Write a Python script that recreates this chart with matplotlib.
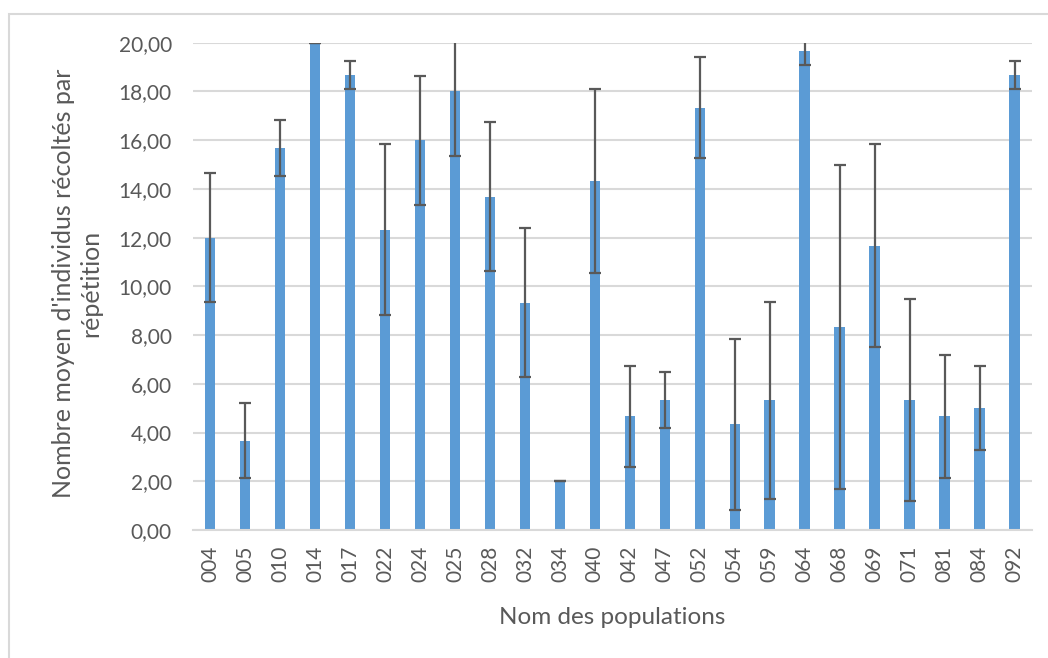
import matplotlib
matplotlib.use('Agg')
import matplotlib.pyplot as plt
from matplotlib.patches import Rectangle

populations = ['004', '005', '010', '014', '017', '022', '024', '025', '028', '032',
               '034', '040', '042', '047', '052', '054', '059', '064', '068', '069',
               '071', '081', '084', '092']
moyennes = [12.00, 3.67, 15.67, 20.00, 18.67, 12.33, 16.00, 18.00, 13.67, 9.33,
            2.00, 14.33, 4.67, 5.33, 17.33, 4.33, 5.33, 19.67, 8.33, 11.67,
            5.33, 4.67, 5.00, 18.67]
ecarts = [2.65, 1.53, 1.15, 0.00, 0.58, 3.51, 2.65, 2.65, 3.06, 3.06,
          0.00, 3.79, 2.08, 1.15, 2.08, 3.51, 4.04, 0.58, 6.66, 4.16,
          4.16, 2.52, 1.73, 0.58]
y_ticks = [0, 2, 4, 6, 8, 10, 12, 14, 16, 18, 20]

gris = '#595959'
plt.rcParams['font.family'] = ['Lato', 'DejaVu Sans']

fig = plt.figure(figsize=(10.48, 6.58), dpi=100)
# bordure de la zone de graphique (style Excel)
fig.patches.append(Rectangle((9 / 1048, -0.1), 1.2, (658 - 14) / 658 + 0.1,
                             transform=fig.transFigure, fill=False,
                             edgecolor='#D9D9D9', linewidth=1.5))

ax = fig.add_axes([192.7 / 1048, (658 - 530) / 658, (1032 - 192.7) / 1048, (530 - 42.7) / 658])
x = range(len(populations))
ax.bar(x, moyennes, width=0.3, color='#5B9BD5', zorder=2)
ax.errorbar(x, moyennes, yerr=ecarts, fmt='none', ecolor=gris, elinewidth=1.6,
            capsize=4, capthick=1.6, zorder=3)

ax.set_xlim(-0.5, len(populations) - 0.5)
ax.set_ylim(0, 20)
ax.set_yticks(y_ticks)
ax.set_yticklabels([f'{v:.2f}'.replace('.', ',') for v in y_ticks], fontsize=15, color=gris)
ax.set_xticks(list(x))
ax.set_xticklabels(populations, rotation=90, fontsize=15, color=gris)
ax.tick_params(axis='y', length=0, pad=15)
ax.tick_params(axis='x', length=0, pad=11)
ax.grid(axis='y', color='#D9D9D9', linewidth=1.5, zorder=0)
for s in ['top', 'right', 'left']:
    ax.spines[s].set_visible(False)
ax.spines['bottom'].set_color('#D9D9D9')
ax.spines['bottom'].set_linewidth(1.5)

# titres des axes
fig.text(612 / 1048, 1 - 617 / 658, 'Nom des populations', fontsize=17.5, color=gris,
         ha='center', va='center')
fig.text(77 / 1048, 1 - 283 / 658, "Nombre moyen d'individus récoltés par\nrépétition",
         fontsize=18, color=gris, rotation=90, ha='center', va='center',
         linespacing=1.2, multialignment='center')

fig.savefig('out.png', dpi=100)
